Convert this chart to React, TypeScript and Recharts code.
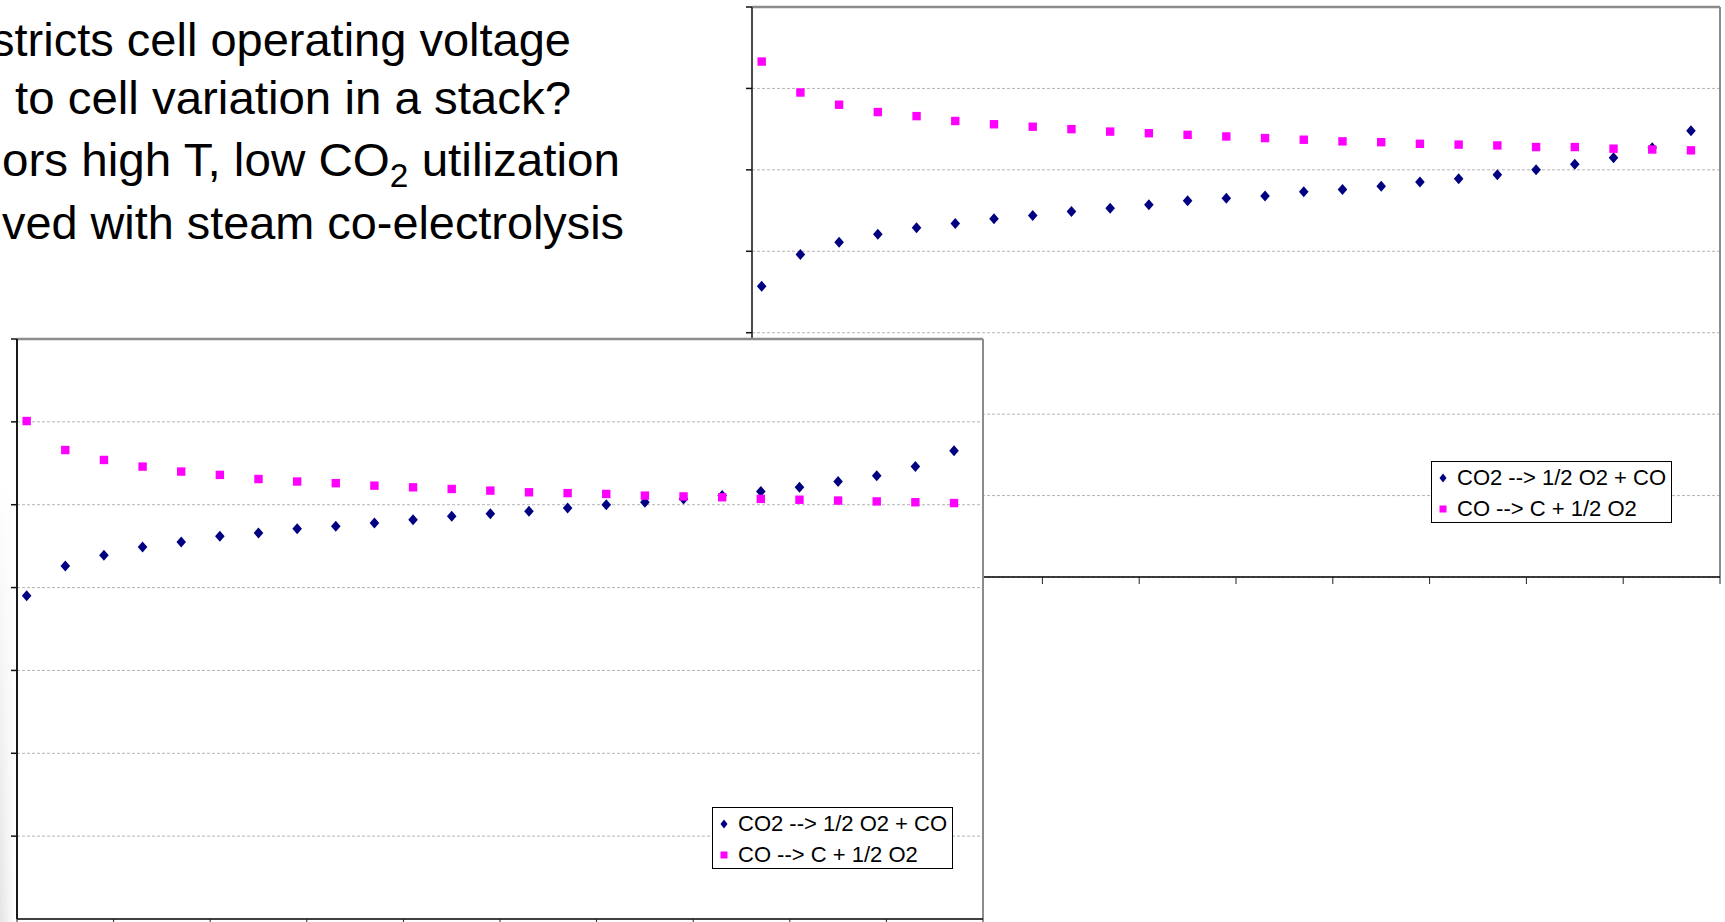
import { ScatterChart, Scatter, XAxis, YAxis, CartesianGrid, ReferenceLine, Legend } from "recharts"

const NAVY = "#000080"
const MAGENTA = "#FF00FF"
const FONT = "'Liberation Sans', Arial, sans-serif"

// x positions of the 25 points (axis runs 0..10, ticks every 1)
const xValues = [0.1, 0.5, 0.9, 1.3, 1.7, 2.1, 2.5, 2.9, 3.3, 3.7, 4.1, 4.5, 4.9, 5.3, 5.7, 6.1, 6.5, 6.9, 7.3, 7.7, 8.1, 8.5, 8.9, 9.3, 9.7]
const xTicks = [0, 1, 2, 3, 4, 5, 6, 7, 8, 9, 10]
const yTicks = [0, 1, 2, 3, 4, 5, 6, 7]

const seriesNames = ["CO2 --> 1/2 O2 + CO", "CO --> C + 1/2 O2"]

// chart in the back (upper right)
const backCO2 = [3.57, 3.96, 4.11, 4.21, 4.29, 4.34, 4.4, 4.44, 4.49, 4.53, 4.57, 4.62, 4.65, 4.68, 4.73, 4.76, 4.8, 4.85, 4.89, 4.94, 5.0, 5.07, 5.15, 5.27, 5.48]
const backCO = [6.33, 5.95, 5.8, 5.71, 5.66, 5.6, 5.56, 5.53, 5.5, 5.47, 5.45, 5.43, 5.41, 5.39, 5.37, 5.35, 5.34, 5.32, 5.31, 5.3, 5.28, 5.28, 5.26, 5.25, 5.24]

// chart in the front (lower left)
const frontCO2 = [3.9, 4.26, 4.39, 4.49, 4.55, 4.62, 4.66, 4.71, 4.74, 4.78, 4.82, 4.86, 4.89, 4.92, 4.96, 5.0, 5.03, 5.07, 5.11, 5.16, 5.21, 5.28, 5.35, 5.46, 5.65]
const frontCO = [6.01, 5.66, 5.54, 5.46, 5.4, 5.36, 5.31, 5.28, 5.26, 5.23, 5.21, 5.19, 5.17, 5.15, 5.14, 5.13, 5.11, 5.1, 5.09, 5.07, 5.06, 5.05, 5.04, 5.03, 5.02]

const Diamond = (props: any) => {
  const { cx, cy } = props
  if (cx == null || cy == null) return <g />
  return <polygon points={`${cx},${cy - 5.5} ${cx + 4.8},${cy} ${cx},${cy + 5.5} ${cx - 4.8},${cy}`} fill={NAVY} />
}

const Square = (props: any) => {
  const { cx, cy } = props
  if (cx == null || cy == null) return <g />
  return <rect x={cx - 4.2} y={cy - 4.2} width={8.4} height={8.4} fill={MAGENTA} />
}

// no tick labels in the picture, only the tick marks
const NoLabel = () => <g />

const LegendBox = () => (
  <svg width={242} height={63} style={{ display: "block" }}>
    <rect x={0.5} y={0.5} width={240} height={61} fill="#fff" stroke="#000" strokeWidth={1} />
    <polygon points="12,12.5 15.5,17 12,21.5 8.5,17" fill={NAVY} />
    <text x={26} y={24} fontSize={22} fontFamily={FONT} fill="#000">{seriesNames[0]}</text>
    <rect x={8.5} y={44.5} width={7} height={7} fill={MAGENTA} />
    <text x={26} y={54.5} fontSize={22} fontFamily={FONT} fill="#000">{seriesNames[1]}</text>
  </svg>
)

function Panel({ co2, co, width, height, margin, xAxisHeight, legendLeft, legendTop, axisColor }: any) {
  const co2Data = xValues.map((x, i) => ({ x, y: co2[i] }))
  const coData = xValues.map((x, i) => ({ x, y: co[i] }))
  return (
    <ScatterChart width={width} height={height} margin={margin}>
      <CartesianGrid vertical={false} horizontalValues={yTicks} stroke="#b4b4b4" strokeDasharray="3 2" fill="#fff" fillOpacity={1} />
      <XAxis
        type="number"
        dataKey="x"
        domain={[0, 10]}
        ticks={xTicks}
        tick={NoLabel}
        tickSize={7}
        height={xAxisHeight}
        axisLine={{ stroke: "#000", strokeWidth: 1.5 }}
        tickLine={{ stroke: "#222" }}
      />
      <YAxis
        type="number"
        dataKey="y"
        domain={[0, 7]}
        ticks={yTicks}
        tick={NoLabel}
        tickSize={6}
        width={10}
        axisLine={{ stroke: axisColor, strokeWidth: 2 }}
        tickLine={{ stroke: "#111", strokeWidth: 1.5 }}
      />
      <ReferenceLine y={7} stroke="#8c8c8c" strokeWidth={2.5} ifOverflow="visible" />
      <ReferenceLine x={10} stroke="#8c8c8c" strokeWidth={2} ifOverflow="visible" />
      <Scatter name={seriesNames[0]} data={co2Data} fill={NAVY} shape={Diamond} isAnimationActive={false} />
      <Scatter name={seriesNames[1]} data={coData} fill={MAGENTA} shape={Square} isAnimationActive={false} />
      <Legend
        layout="vertical"
        align="center"
        verticalAlign="middle"
        content={LegendBox}
        wrapperStyle={{ left: legendLeft, top: legendTop, width: 242, height: 63 }}
      />
    </ScatterChart>
  )
}

// slide text behind the charts (its left part is cut off in the picture)
const slideLines = [
  { text: "stricts cell operating voltage", right: 571, baseline: 56, length: 0 },
  { text: "to cell variation in a stack?", right: 571, baseline: 114, length: 556 },
  { text: "", right: 620, baseline: 176, length: 618 },
  { text: "ved with steam co-electrolysis", right: 624, baseline: 239, length: 622 },
]

export default function App() {
  return (
    <div style={{ position: "absolute", left: 0, top: 0, width: 1725, height: 922, overflow: "hidden", background: "#fff", fontFamily: FONT }}>
      <div
        style={{
          position: "absolute",
          left: 0,
          top: 480,
          width: 15,
          height: 442,
          background: "linear-gradient(to right, rgba(255,255,255,0), #fff), linear-gradient(to bottom, #fff, #e4e4e4)",
        }}
      />
      <svg style={{ position: "absolute", left: 0, top: 0 }} width={740} height={300}>
        {slideLines.map((l, i) => {
          const fit = l.length ? { textLength: l.length, lengthAdjust: "spacingAndGlyphs" as const } : {}
          return i === 2 ? (
            <text key={i} x={l.right - l.length} y={l.baseline} fontSize={47} fontFamily={FONT} fill="#000" {...fit}>
              ors high T, low CO
              <tspan fontSize={33} dy={11}>2</tspan>
              <tspan fontSize={47} dy={-11}> utilization</tspan>
            </text>
          ) : l.length ? (
            <text key={i} x={l.right - l.length} y={l.baseline} fontSize={47} fontFamily={FONT} fill="#000" {...fit}>
              {l.text}
            </text>
          ) : (
            <text key={i} x={l.right} y={l.baseline} textAnchor="end" fontSize={47} fontFamily={FONT} fill="#000">
              {l.text}
            </text>
          )
        })}
      </svg>
      <div style={{ position: "absolute", left: 740, top: 0 }}>
        <Panel
          co2={backCO2}
          co={backCO}
          width={985}
          height={600}
          margin={{ top: 7, right: 5, bottom: 13, left: 2 }}
          xAxisHeight={10}
          legendLeft={691}
          legendTop={461}
          axisColor="#4a4a4a"
        />
      </div>
      <div style={{ position: "absolute", left: 0, top: 330 }}>
        <Panel
          co2={frontCO2}
          co={frontCO}
          width={990}
          height={592}
          margin={{ top: 9, right: 7, bottom: 0, left: 7 }}
          xAxisHeight={3}
          legendLeft={712}
          legendTop={477}
          axisColor="#1a1a1a"
        />
      </div>
    </div>
  )
}
